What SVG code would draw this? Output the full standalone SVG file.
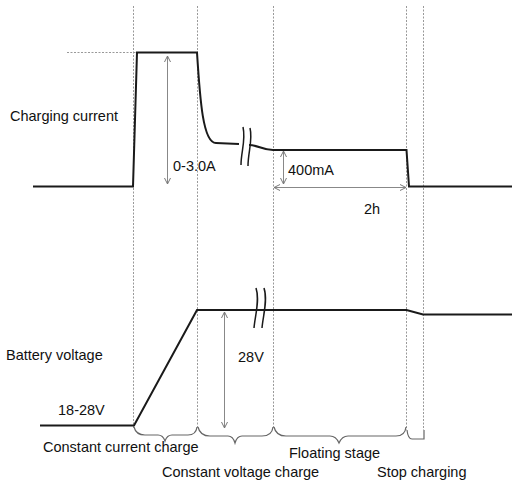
<svg xmlns="http://www.w3.org/2000/svg" width="512" height="484" viewBox="0 0 512 484">
<defs>
<marker id="ah" markerWidth="8" markerHeight="8" refX="7" refY="4" orient="auto-start-reverse" markerUnits="userSpaceOnUse">
<path d="M1,1 L7,4 L1,7" fill="none" stroke="#777" stroke-width="1"/>
</marker>
<style>
.guide{stroke:#999;stroke-width:1;stroke-dasharray:2 1.5;fill:none}
.wave{stroke:#1a1a1a;stroke-width:2;fill:none}
.brk{stroke:#1a1a1a;stroke-width:1.5;fill:none}
.dim{stroke:#888;stroke-width:1;fill:none;marker-start:url(#ah);marker-end:url(#ah)}
.brace{stroke:#666;stroke-width:1.2;fill:none}
text{font-family:"Liberation Sans",Arial,sans-serif;font-size:14.5px;fill:#111}
</style>
</defs>
<rect width="512" height="484" fill="#fff"/>
<g id="guides">
<line class="guide" x1="133.5" y1="6" x2="133.5" y2="428"/>
<line class="guide" x1="197.5" y1="6" x2="197.5" y2="428"/>
<line class="guide" x1="273.5" y1="6" x2="273.5" y2="428"/>
<line class="guide" x1="406.5" y1="6" x2="406.5" y2="430"/>
<line class="guide" x1="423.5" y1="6" x2="423.5" y2="430"/>
<line class="guide" x1="67" y1="52.5" x2="136" y2="52.5"/>
</g>
<g id="current-wave">
<path class="wave" d="M33 186.5 L133 186.5 L137 52.5 L197 52.5 C200 100 203 143 216 143 L239 144"/>
<path class="wave" d="M249 145 C258 145 262 150 273 150 L406.5 150 L409 186.5 L512 186.5"/>
<path class="brk" d="M243 127 C246 140 241 152 241 165"/>
<path class="brk" d="M250 128 C253 140 248 152 248 166"/>
</g>
<g id="voltage-wave">
<path class="wave" d="M40 425.5 L134 425.5 L197 310 L406.5 310 L423 314.5 L512 314.5"/>
<path class="brk" d="M256 288 C260 300 255 316 254 328"/>
<path class="brk" d="M264 288 C268 300 263 316 262 328"/>
</g>
<g id="connectors">
<line class="dim" x1="167.5" y1="56" x2="167.5" y2="184"/>
<line class="dim" x1="283.5" y1="151" x2="283.5" y2="184"/>
<line class="dim" x1="274" y1="187.5" x2="406" y2="187.5"/>
<line class="dim" x1="224.5" y1="312" x2="224.5" y2="428"/>
</g>
<g id="braces">
<path class="brace" d="M134 427 Q136 435 145 435 L158 435 Q163 435 165 441 Q167 435 172 435 L188 435 Q196 435 197 427"/>
<path class="brace" d="M198 427 Q200 436 210 436 L228 436 Q233 436 235 443 Q237 436 242 436 L262 436 Q272 436 273 427"/>
<path class="brace" d="M274 427 Q276 436 286 436 L330 436 Q336 436 339 443 Q342 436 348 436 L396 436 Q405 436 406 427"/>
<path class="brace" d="M407 430 Q408 439 412 439 L424 439 L424 430"/>
</g>
<g id="labels">
<text x="10" y="121">Charging current</text>
<text x="173" y="171">0-3.0A</text>
<text x="288" y="175">400mA</text>
<text x="364" y="214">2h</text>
<text x="6" y="360">Battery voltage</text>
<text x="58" y="415">18-28V</text>
<text x="238" y="362">28V</text>
<text x="43" y="452">Constant current charge</text>
<text x="289" y="458">Floating stage</text>
<text x="162" y="477">Constant voltage charge</text>
<text x="377" y="477">Stop charging</text>
</g>
</svg>
